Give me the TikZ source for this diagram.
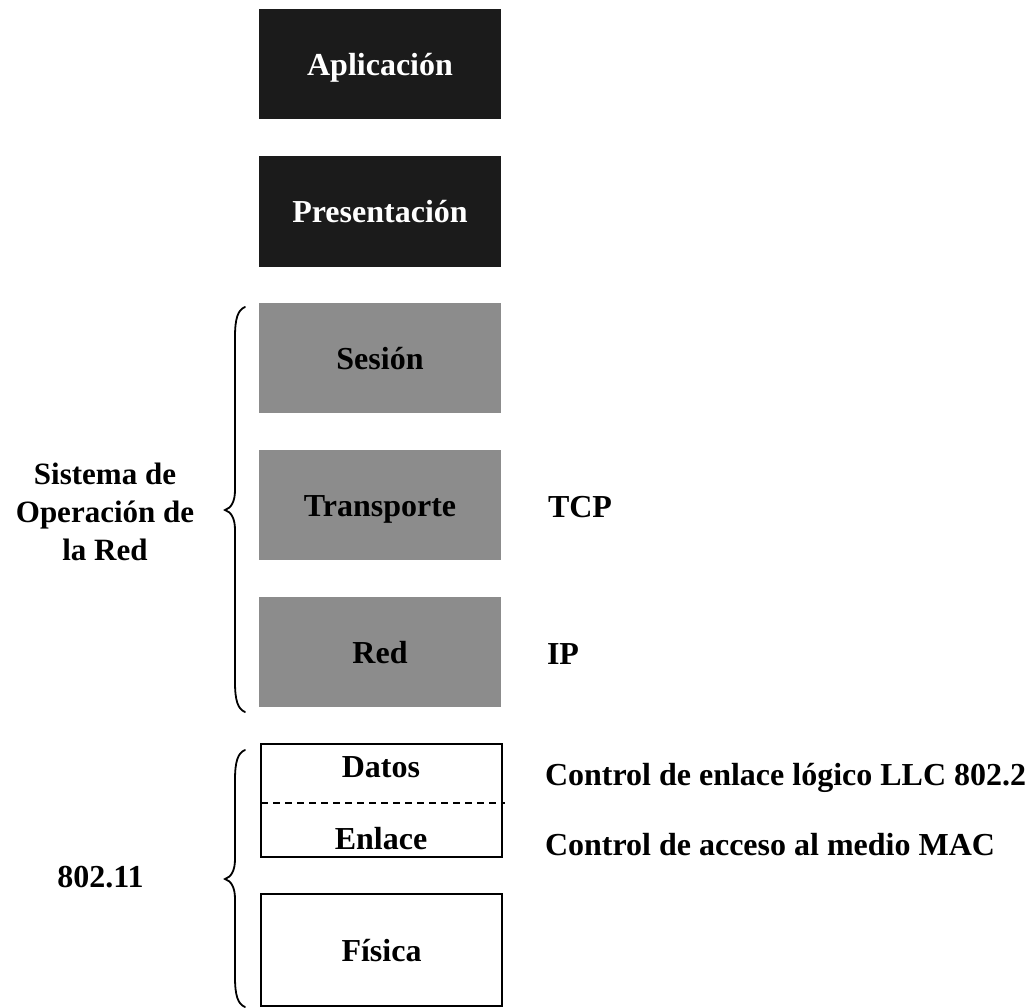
\documentclass[tikz,border=0pt]{standalone}
\usepackage{fontspec}
\setmainfont{Liberation Serif}
\definecolor{darkbox}{HTML}{1B1B1B}
\definecolor{greybox}{HTML}{8C8C8C}
\begin{document}
\begin{tikzpicture}[x=1pt,y=-1pt,
  every node/.style={inner sep=0pt,outer sep=0pt,font=\fontsize{32}{38}\selectfont\bfseries},
  layer/.style={minimum width=242pt,minimum height=110pt,text height=23pt,text depth=0pt},
  darklayer/.style={layer,fill=darkbox,text=white},
  greylayer/.style={layer,fill=greybox,text=black},
  openlayer/.style={draw=black,line width=2pt,minimum width=241pt},
  lbl/.style={anchor=base},
  sidelbl/.style={anchor=base west},
  bracepath/.style={line width=1.8pt,line cap=round}
]
\useasboundingbox (0,0) rectangle (1034,1008);

\node[darklayer] (apl) at (380,64) {Aplicación};
\node[darklayer,minimum height=111pt] (pre) at (380,211.5) {Presentación};
\node[greylayer] (ses) at (380,358) {Sesión};
\node[greylayer] (tra) at (380,505) {Transporte};
\node[greylayer] (red) at (380,652) {Red};

\node[openlayer,minimum height=113pt] (dat) at (381.5,800.5) {};
\node[lbl] (datt) at (381,777) {Datos};
\node[lbl] (enl) at (381,849) {Enlace};
\coordinate (dashend) at (505,803);
\draw[line width=1.4pt,dash pattern=on 7pt off 5pt] (dat.west |- dashend) -- (dashend);

\node[openlayer,minimum height=112pt,text height=23pt,text depth=0pt] (fis) at (381.5,950) {Física};

\node[sidelbl] (tcp) at (548,517) {TCP};
\node[sidelbl] (ip) at (547,664) {IP};
\node[sidelbl] (llc) at (545,785) {Control de enlace lógico LLC 802.2};
\node[sidelbl] (mac) at (545,855) {Control de acceso al medio MAC};

\node[anchor=north,align=center,font=\fontsize{31}{38}\selectfont\bfseries] (sor) at (105,463) {Sistema de\\Operación de\\la Red};
\node[lbl] (w80211) at (100.5,887) {802.11};

% upper brace
\draw[bracepath] (245,307) .. controls (238,310) and (235,318) .. (235,337)
  -- (235,490) .. controls (235,502) and (231,508) .. (225,510)
  .. controls (231,512) and (235,518) .. (235,530)
  -- (235,682) .. controls (235,701) and (238,709) .. (245,712);
% lower brace
\draw[bracepath] (245,750) .. controls (238,753) and (235,761) .. (235,780)
  -- (235,859) .. controls (235,871) and (231,877) .. (225,879)
  .. controls (231,881) and (235,887) .. (235,899)
  -- (235,977) .. controls (235,996) and (238,1004) .. (245,1007);
\end{tikzpicture}
\end{document}
